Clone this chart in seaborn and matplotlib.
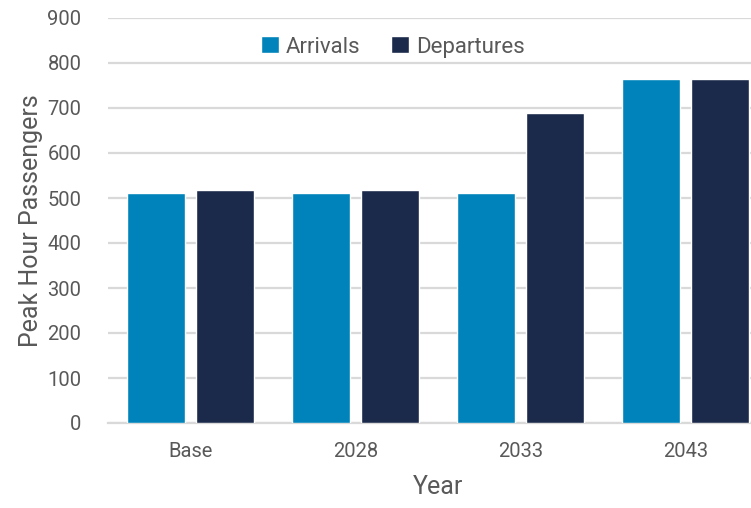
import pandas as pd
import matplotlib.pyplot as plt
import seaborn as sns

# -----------------------------
# DATA
# -----------------------------
years = ["Base", "2028", "2033", "2043"]
arrivals = [510, 510, 510, 765]
departures = [518, 518, 688, 765]
series_names = ["Arrivals", "Departures"]
y_ticks = [0, 100, 200, 300, 400, 500, 600, 700, 800, 900]

df = pd.DataFrame({
    "Year": years * 2,
    "Passengers": arrivals + departures,
    "Direction": [series_names[0]] * len(years) + [series_names[1]] * len(years),
})

# -----------------------------
# STYLE
# -----------------------------
sns.set_style("white")
plt.rcParams["font.family"] = ["Roboto", "DejaVu Sans"]
TEXT = "#595959"
GRID = "#D9D9D9"
palette = {"Arrivals": "#0083BA", "Departures": "#1B2A4A"}

fig = plt.figure(figsize=(7.51, 5.08), dpi=100)
ax = fig.add_axes([108 / 751, 85 / 508, 660 / 751, 405 / 508])

sns.barplot(data=df, x="Year", y="Passengers", hue="Direction", order=years,
            hue_order=series_names, palette=palette, saturation=1,
            width=0.836, gap=0.145, ax=ax, zorder=3)

ax.set_ylim(0, 900)
ax.set_yticks(y_ticks)
ax.set_xlim(-0.5, 3.5)
ax.yaxis.grid(True, color=GRID, linewidth=1.6, zorder=0)
ax.set_axisbelow(True)
for s in ["top", "right", "left"]:
    ax.spines[s].set_visible(False)
ax.spines["bottom"].set_color(GRID)
ax.spines["bottom"].set_linewidth(1.6)
ax.tick_params(axis="both", length=0, colors=TEXT)
ax.tick_params(axis="x", pad=14)
ax.tick_params(axis="y", pad=19)
for lbl in ax.get_xticklabels() + ax.get_yticklabels():
    lbl.set_fontsize(14.5)

ax.set_xlabel("Year", fontsize=18, color=TEXT, labelpad=10)
ax.set_ylabel("Peak Hour Passengers", fontsize=18, color=TEXT, labelpad=3)

ax.get_legend().remove()
handles, labels = ax.get_legend_handles_labels()
fig.legend(handles, labels, loc="center", bbox_to_anchor=(393 / 751, 1 - 47 / 508),
           ncol=2, frameon=False, fontsize=16, labelcolor=TEXT,
           handlelength=0.8, handleheight=0.8, handletextpad=0.3, columnspacing=1.4)

fig.savefig("out.png", dpi=100)
